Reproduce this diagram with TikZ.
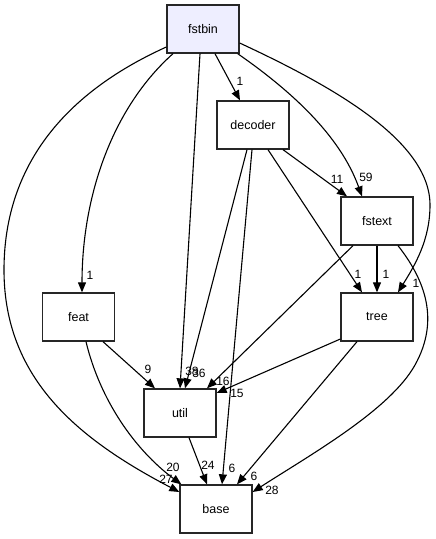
\documentclass[tikz,border=0pt]{standalone}
\usepackage{fontspec}
\setmainfont{Liberation Sans}
\usetikzlibrary{arrows.meta,calc}
\definecolor{dirfill}{HTML}{EEEEFF}
\begin{document}
\begin{tikzpicture}[x=1pt,y=-1pt,
  dirbox/.style={draw=black!85,line width=1.3pt,minimum width=72pt,minimum height=48pt,inner sep=0pt,font=\fontsize{12.5}{14}\selectfont},
  dep/.style={draw=black,line width=1.1pt,-{Triangle[length=10pt,width=8pt]}},
  elabel/.style={inner sep=0pt,font=\fontsize{12}{14}\selectfont}]
\useasboundingbox (0,0) rectangle (436,539);
\node[dirbox,fill=dirfill] (fstbin) at (203,29) {fstbin};
\node[dirbox,fill=white] (decoder) at (253,125) {decoder};
\node[dirbox,fill=white] (fstext) at (377,221) {fstext};
\node[dirbox,fill=white] (feat) at (78.5,317) {feat};
\node[dirbox,fill=white] (tree) at (377,317) {tree};
\node[dirbox,fill=white] (util) at (180,413) {util};
\node[dirbox,fill=white] (base) at (216,509) {base};
% fstbin edges
\draw[dep] ([xshift=12pt]fstbin.south) -- ([xshift=-13pt]decoder.north);
\draw[dep] ([xshift=-2pt]fstbin.south east) .. controls (290,90) and (340,135) .. ([xshift=-15pt]fstext.north);
\draw[dep] ([yshift=-14pt]fstbin.east) .. controls (330,85) and (430,140) .. (430,205) .. controls (430,240) and (415,265) .. ([xshift=21pt]tree.north);
\draw[dep] ([xshift=-3pt]fstbin.south) -- (util.north);
\draw[dep] ([xshift=-30pt]fstbin.south) .. controls (110,110) and (82,200) .. ([xshift=3.5pt]feat.north);
\draw[dep] ([yshift=-18pt]fstbin.west) .. controls (60,95) and (4,170) .. (4,270) .. controls (4,380) and (80,440) .. ([yshift=17pt]base.west);
% decoder edges
\draw[dep] ([xshift=30pt]decoder.south) -- ([xshift=-30pt]fstext.north);
\draw[dep] ([xshift=15pt]decoder.south) -- ([xshift=-15pt]tree.north);
\draw[dep] ([xshift=-6pt]decoder.south) -- ([xshift=5pt]util.north);
\draw[dep] ([xshift=-1pt]decoder.south) -- ([xshift=6pt]base.north);
% fstext edges
\draw[dep] (fstext.south) -- (tree.north);
\draw[dep] ([xshift=-24pt]fstext.south) -- ([xshift=27pt]util.north);
\draw[dep] ([xshift=21pt]fstext.south) .. controls (425,280) and (440,320) .. (415,365) .. controls (390,410) and (310,455) .. ([yshift=17pt]base.east);
% tree edges
\draw[dep] ([yshift=-22pt]tree.west) -- ([yshift=20pt]util.east);
\draw[dep] ([xshift=-20pt]tree.south) -- ([xshift=21pt]base.north);
% feat edges
\draw[dep] ([xshift=24.5pt]feat.south) -- ([xshift=-25pt]util.north);
\draw[dep] ([xshift=7.5pt]feat.south) .. controls (100,400) and (135,450) .. ([xshift=2pt]base.north west);
% util edge
\draw[dep] ([xshift=9pt]util.south) -- ([xshift=-9pt]base.north);
% labels
\node[elabel] (l1) at (240,81) {1};
\node[elabel] (l2) at (366,177) {59};
\node[elabel] (l3) at (337,179) {11};
\node[elabel] (l4) at (416,283) {1};
\node[elabel] (l5) at (90,275) {1};
\node[elabel] (l6) at (358,274) {1};
\node[elabel] (l7) at (386,274) {1};
\node[elabel] (l8) at (192,371) {38};
\node[elabel] (l9) at (199,373) {36};
\node[elabel] (l10) at (223,381) {16};
\node[elabel] (l11) at (237,393) {15};
\node[elabel] (l12) at (148,369) {9};
\node[elabel] (l13) at (173,467) {20};
\node[elabel] (l14) at (166,479) {27};
\node[elabel] (l15) at (208,465) {24};
\node[elabel] (l16) at (232,468) {6};
\node[elabel] (l17) at (254,476) {6};
\node[elabel] (l18) at (272,490) {28};
\end{tikzpicture}
\end{document}
